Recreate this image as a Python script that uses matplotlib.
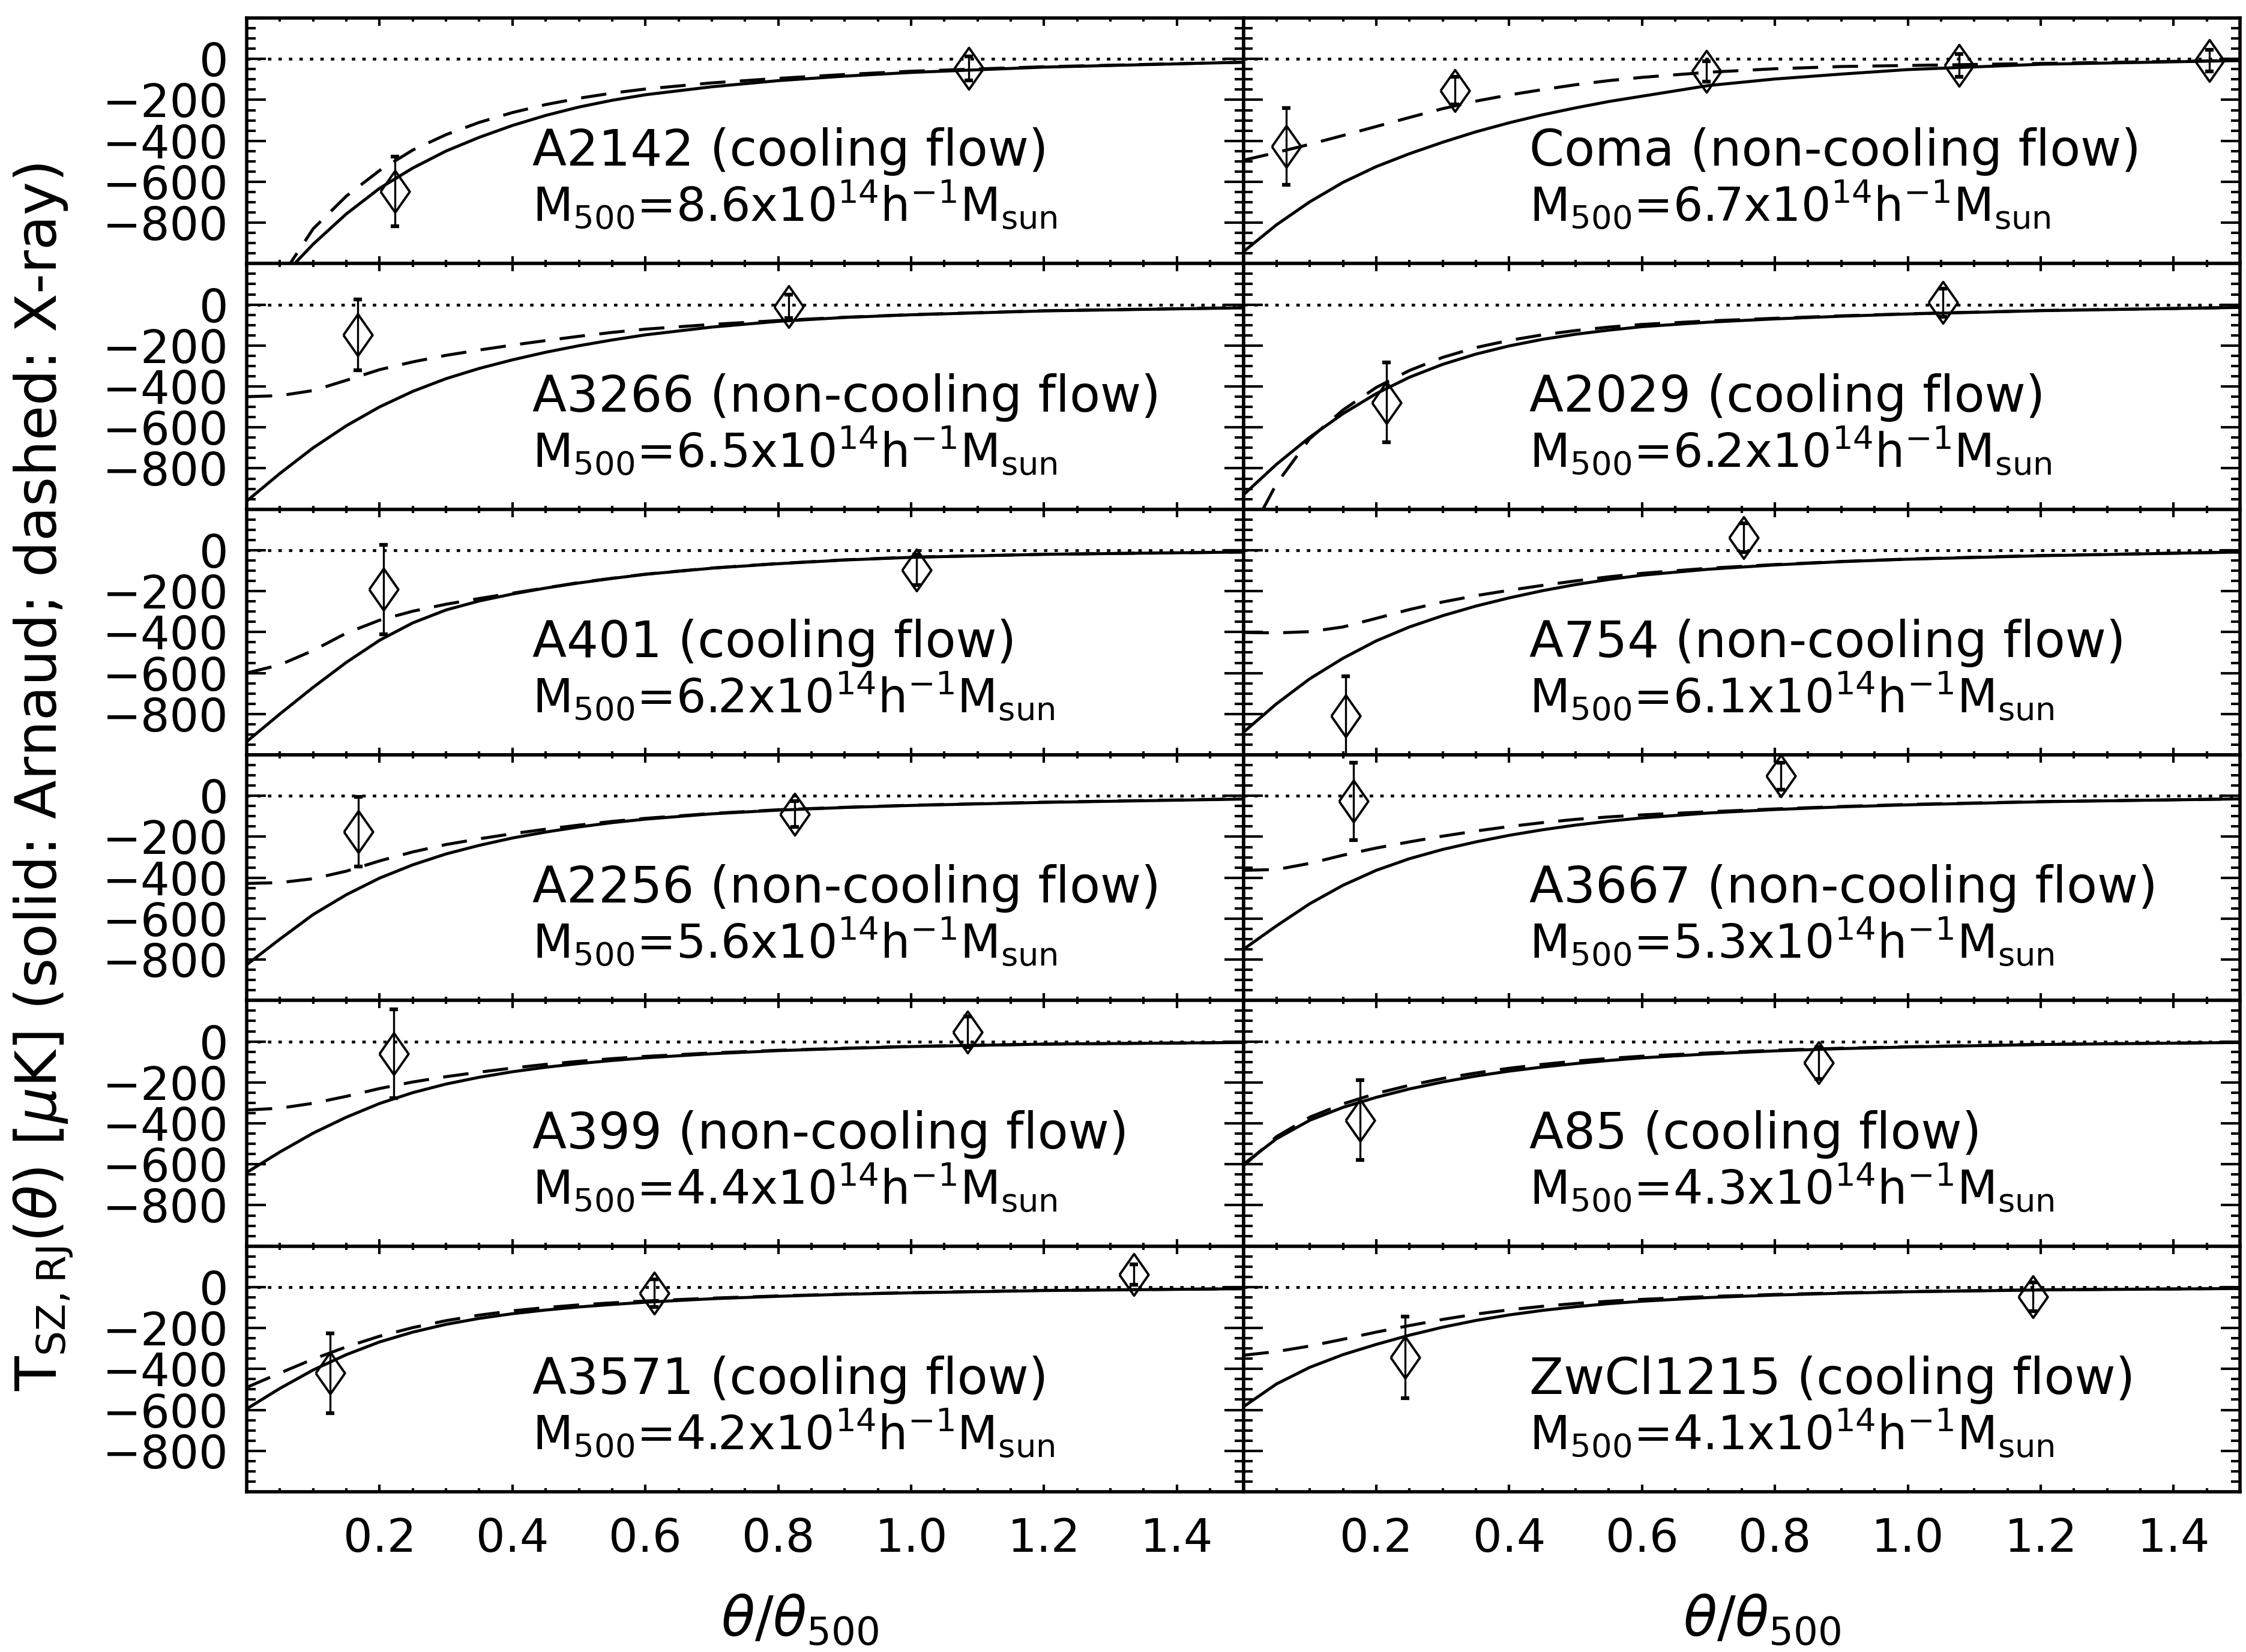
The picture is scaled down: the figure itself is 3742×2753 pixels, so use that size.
import matplotlib
matplotlib.use('Agg')
import matplotlib.pyplot as plt
from matplotlib.ticker import MultipleLocator, FuncFormatter

# panels: left column top->bottom, then right column top->bottom
names = ['A2142', 'A3266', 'A401', 'A2256', 'A399', 'A3571',
         'Coma', 'A2029', 'A754', 'A3667', 'A85', 'ZwCl1215']
flow = ['cooling flow', 'non-cooling flow', 'cooling flow', 'non-cooling flow',
        'non-cooling flow', 'cooling flow',
        'non-cooling flow', 'cooling flow', 'non-cooling flow', 'non-cooling flow',
        'cooling flow', 'cooling flow']
m500 = ['8.6', '6.5', '6.2', '5.6', '4.4', '4.2',
        '6.7', '6.2', '6.1', '5.3', '4.3', '4.1']

theta = [0.0, 0.05, 0.1, 0.15, 0.2, 0.25, 0.3, 0.35, 0.4, 0.45, 0.5, 0.55, 0.6,
         0.7, 0.8, 0.9, 1.0, 1.2, 1.5]

# solid: Arnaud profile (uK)
arnaud = [
    [-1260, -1075, -905, -757, -632, -533, -450, -383, -325, -276, -235, -202, -175, -136, -106, -84, -66, -40, -16],
    [-960, -825, -700, -592, -500, -424, -362, -312, -270, -233, -201, -173, -148, -110, -82, -63, -50, -31, -16],
    [-935, -800, -670, -548, -440, -355, -292, -248, -214, -185, -160, -138, -118, -88, -66, -48, -35, -20, -9],
    [-825, -700, -580, -483, -402, -337, -284, -242, -206, -177, -152, -131, -114, -88, -70, -57, -47, -32, -16],
    [-640, -540, -448, -370, -303, -250, -208, -175, -148, -126, -108, -93, -80, -60, -45, -34, -25, -13, -5],
    [-595, -495, -405, -330, -268, -220, -182, -153, -130, -112, -97, -85, -74, -57, -45, -35, -28, -17, -8],
    [-942, -810, -698, -603, -526, -463, -407, -356, -312, -273, -239, -208, -182, -130, -98, -74, -52, -26, -8],
    [-930, -780, -648, -533, -435, -355, -292, -242, -202, -170, -145, -125, -108, -86, -70, -57, -46, -30, -14],
    [-890, -750, -628, -528, -443, -375, -320, -273, -233, -198, -168, -143, -122, -93, -72, -56, -44, -27, -9],
    [-750, -635, -527, -437, -364, -307, -262, -225, -193, -166, -143, -124, -108, -84, -67, -54, -44, -29, -15],
    [-600, -475, -385, -322, -273, -232, -198, -169, -145, -125, -108, -93, -80, -61, -46, -35, -27, -15, -5],
    [-585, -473, -392, -330, -280, -235, -196, -163, -136, -114, -96, -81, -69, -51, -39, -30, -23, -14, -7],
]

# dashed: X-ray (uK)
xray = [
    [-1400, -1075, -830, -670, -545, -445, -370, -310, -262, -223, -192, -167, -147, -117, -95, -76, -60, -38, -16],
    [-450, -445, -420, -370, -318, -280, -248, -222, -198, -176, -155, -136, -120, -97, -78, -62, -49, -30, -15],
    [-600, -560, -490, -405, -342, -298, -264, -236, -210, -184, -158, -137, -117, -87, -65, -47, -34, -20, -9],
    [-428, -424, -405, -368, -318, -274, -238, -210, -185, -163, -143, -125, -110, -86, -68, -56, -46, -31, -15],
    [-335, -326, -302, -268, -230, -198, -172, -150, -130, -112, -97, -84, -73, -56, -43, -33, -24, -13, -5],
    [-490, -420, -352, -292, -240, -198, -164, -137, -116, -100, -87, -77, -68, -54, -43, -34, -27, -16, -8],
    [-495, -457, -417, -374, -330, -286, -243, -206, -176, -150, -126, -106, -90, -65, -48, -37, -32, -22, -7],
    [-1180, -875, -655, -515, -405, -322, -258, -210, -175, -148, -127, -110, -97, -80, -67, -55, -45, -29, -14],
    [-402, -404, -398, -375, -333, -290, -253, -222, -196, -172, -150, -130, -113, -88, -70, -55, -43, -26, -9],
    [-364, -360, -330, -290, -255, -225, -197, -172, -150, -131, -115, -103, -93, -78, -64, -52, -42, -28, -15],
    [-608, -465, -370, -305, -254, -214, -181, -154, -131, -112, -96, -83, -72, -56, -43, -33, -26, -14, -5],
    [-333, -315, -288, -255, -220, -188, -158, -132, -111, -94, -80, -69, -60, -46, -36, -28, -22, -13, -7],
]

# measured points with 1-sigma errors
pt_x = [[0.223, 1.087], [0.167, 0.816], [0.206, 1.008], [0.168, 0.825],
        [0.221, 1.085], [0.126, 0.613, 1.335],
        [0.065, 0.318, 0.697, 1.077, 1.454], [0.215, 1.053], [0.154, 0.753],
        [0.166, 0.809], [0.176, 0.866], [0.243, 1.188]]
pt_y = [[-647, -46], [-148, -9], [-192, -96], [-175, -89],
        [-60, 47], [-420, -30, 61],
        [-427, -154, -60, -31, -8], [-479, 9], [-810, 61],
        [-27, 96], [-384, -105], [-343, -47]]
pt_err = [[169, 59], [172, 58], [218, 75], [170, 62],
          [217, 75], [195, 68, 50],
          [188, 67, 50, 55, 52], [195, 70], [195, 70],
          [188, 67], [195, 77], [199, 71]]

W, H = 3742, 2753
fig, axes = plt.subplots(6, 2, sharex=True, sharey=True, figsize=(W / 100, H / 100), dpi=100)
fig.subplots_adjust(left=411 / W, right=3732 / W, top=1 - 30 / H, bottom=1 - 2486 / H,
                    hspace=0, wspace=0)

lw = 3.6
# open diamond, a bit taller than wide
diamond = [(-0.7, 0), (0, 1), (0.7, 0), (0, -1), (-0.7, 0)]


def xfmt(v, p):
    if abs(v) < 1e-6 or v > 1.45:
        return ''
    return '%.1f' % v


def yfmt(v, p):
    if v > 100 or v < -900:
        return ''
    return ('%d' % v).replace('-', '\u2212')


for i in range(12):
    col, row = divmod(i, 6)
    ax = axes[row, col]
    ax.axhline(0, color='k', lw=3.4, ls=(0, (1.2, 2.5)))
    ax.plot(theta, arnaud[i], color='k', lw=lw)
    ax.plot(theta, xray[i], color='k', lw=lw, dashes=(8.5, 4.8))
    ax.errorbar(pt_x[i], pt_y[i], yerr=pt_err[i], fmt='none', ecolor='k',
                elinewidth=2.4, capsize=5, capthick=4.5)
    ax.plot(pt_x[i], pt_y[i], ls='none', marker=diamond, ms=50, mfc='none',
            mec='k', mew=2.8)
    ax.text(0.43, -522, '%s (%s)' % (names[i], flow[i]), fontsize=60)
    ax.text(0.43, -798, r'M$_{500}$=%sx10$^{14}$h$^{-1}$M$_{\rm sun}$' % m500[i], fontsize=56)

    ax.set_xlim(0, 1.5)
    ax.set_ylim(-1000, 200)
    ax.xaxis.set_major_locator(MultipleLocator(0.2))
    ax.xaxis.set_minor_locator(MultipleLocator(0.05))
    ax.yaxis.set_major_locator(MultipleLocator(200))
    ax.yaxis.set_minor_locator(MultipleLocator(50))
    ax.xaxis.set_major_formatter(FuncFormatter(xfmt))
    ax.yaxis.set_major_formatter(FuncFormatter(yfmt))
    ax.tick_params(which='both', direction='in', top=True, right=True, width=3,
                   labelsize=55)
    ax.tick_params(axis='y', which='major', length=23, pad=22)
    ax.tick_params(axis='y', which='minor', length=11)
    ax.tick_params(axis='x', which='major', length=9, pad=30)
    ax.tick_params(axis='x', which='minor', length=4.5)
    for s in ax.spines.values():
        s.set_linewidth(4)

fig.text(1333 / W, 1 - 2700 / H, r'$\theta/\theta_{500}$', fontsize=66, ha='center', va='center')
fig.text(2936 / W, 1 - 2700 / H, r'$\theta/\theta_{500}$', fontsize=66, ha='center', va='center')
fig.text(72 / W, 1 - 1295 / H,
         r'T$_{\rm SZ,RJ}$($\theta$) [$\mu$K] (solid: Arnaud; dashed: X-ray)',
         fontsize=68, rotation=90, ha='center', va='center')

fig.savefig('out.png', dpi=100)
